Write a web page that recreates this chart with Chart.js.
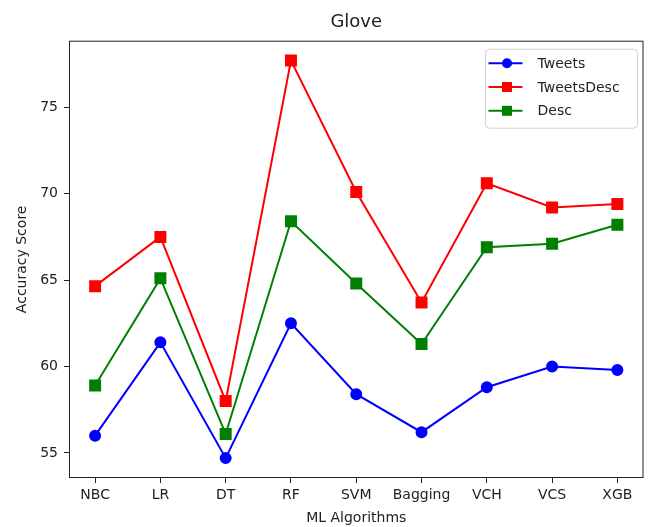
<!DOCTYPE html>
<html>
<head>
<meta charset="utf-8">
<script src="https://cdn.jsdelivr.net/npm/chart.js@4/dist/chart.umd.min.js"></script>
<style>
  html, body { margin: 0; padding: 0; background: #fff; overflow: hidden; }
  #wrap { width: 649px; height: 527px; }
</style>
</head>
<body>
<div id="wrap"><canvas id="chart"></canvas></div>
<script>
const algorithms = ["NBC", "LR", "DT", "RF", "SVM", "Bagging", "VCH", "VCS", "XGB"];
const tweets = [56.0, 61.4, 54.7, 62.5, 58.4, 56.2, 58.8, 60.0, 59.8];
const tweetsDesc = [64.65, 67.5, 58.0, 77.7, 70.1, 63.7, 70.6, 69.2, 69.4];
const desc = [58.9, 65.1, 56.1, 68.4, 64.8, 61.3, 66.9, 67.1, 68.2];
const yTicks = [55, 60, 65, 70, 75];

const FONT = "'DejaVu Sans', sans-serif";
const INK = "#222";

// matplotlib-like 5% margins
const all = tweets.concat(tweetsDesc, desc);
const lo = Math.min(...all), hi = Math.max(...all);
const yMin = lo - (hi - lo) * 0.05, yMax = hi + (hi - lo) * 0.05;
const xPad = (algorithms.length - 1) * 0.05;

const pts = arr => arr.map((v, i) => ({ x: i, y: v }));

// frame + legend box drawn like matplotlib
const framePlugin = {
  id: "frame",
  afterDraw(chart) {
    const { ctx, chartArea: a } = chart;
    ctx.save();
    ctx.strokeStyle = INK;
    ctx.lineWidth = 1;
    ctx.strokeRect(a.left + 0.5, a.top + 0.5, a.right - a.left - 1, a.bottom - a.top - 1);

    const w = 152, h = 79;
    const bx = a.right - 6 - w, by = a.top + 8.5;
    ctx.beginPath();
    ctx.roundRect(bx, by, w, h, 4);
    ctx.fillStyle = "rgba(255,255,255,0.8)";
    ctx.fill();
    ctx.strokeStyle = "#d0d0d0";
    ctx.stroke();

    ctx.font = "14px " + FONT;
    ctx.textBaseline = "middle";
    chart.data.datasets.forEach((ds, i) => {
      const y = by + 14 + i * 23.8;
      ctx.strokeStyle = ds.borderColor;
      ctx.lineWidth = 2;
      ctx.beginPath();
      ctx.moveTo(bx + 3, y);
      ctx.lineTo(bx + 37, y);
      ctx.stroke();
      ctx.fillStyle = ds.borderColor;
      ctx.beginPath();
      if (ds.pointStyle === "circle") {
        ctx.arc(bx + 21.5, y, 5, 0, Math.PI * 2);
      } else {
        ctx.rect(bx + 16.5, y - 5, 10, 10);
      }
      ctx.fill();
      ctx.fillStyle = INK;
      ctx.fillText(ds.label, bx + 52, y + 1);
    });
    ctx.restore();
  }
};

const ctx = document.getElementById("chart").getContext("2d");
new Chart(ctx, {
  type: "line",
  data: {
    datasets: [
      {
        label: "Tweets",
        data: pts(tweets),
        borderColor: "#0000ff",
        backgroundColor: "#0000ff",
        pointStyle: "circle",
        pointRadius: 5,
        borderWidth: 2
      },
      {
        label: "TweetsDesc",
        data: pts(tweetsDesc),
        borderColor: "#ff0000",
        backgroundColor: "#ff0000",
        pointStyle: "rect",
        pointRadius: 7.07,
        borderWidth: 2
      },
      {
        label: "Desc",
        data: pts(desc),
        borderColor: "#008000",
        backgroundColor: "#008000",
        pointStyle: "rect",
        pointRadius: 7.07,
        borderWidth: 2
      }
    ]
  },
  options: {
    responsive: true,
    maintainAspectRatio: false,
    animation: false,
    layout: { autoPadding: false, padding: { top: 0, right: 5.5, bottom: 0, left: 0 } },
    elements: { point: { borderWidth: 0, hoverRadius: 5 }, line: { tension: 0 } },
    plugins: {
      legend: { display: false },
      tooltip: { enabled: false },
      title: {
        display: true,
        text: "Glove",
        fullSize: false,
        color: INK,
        font: { family: FONT, size: 18, weight: "normal" },
        padding: { top: 11.5, bottom: 7.6 }
      }
    },
    scales: {
      x: {
        type: "linear",
        min: -xPad,
        max: algorithms.length - 1 + xPad,
        afterBuildTicks: s => { s.ticks = algorithms.map((_, i) => ({ value: i })); },
        afterFit: s => { s.height = 49; s.paddingLeft = 0; s.paddingRight = 0; },
        ticks: {
          callback: v => algorithms[v],
          color: INK,
          padding: 4,
          maxRotation: 0,
          autoSkip: false,
          font: { family: FONT, size: 14 }
        },
        grid: { drawOnChartArea: false, drawTicks: true, tickLength: 5, color: INK },
        border: { display: false },
        title: {
          display: true,
          text: "ML Algorithms",
          color: INK,
          font: { family: FONT, size: 14 },
          padding: { top: 0, bottom: 0 }
        }
      },
      y: {
        min: yMin,
        max: yMax,
        afterBuildTicks: s => { s.ticks = yTicks.map(v => ({ value: v })); },
        afterFit: s => { s.width = 69; },
        ticks: {
          color: INK,
          padding: 6,
          font: { family: FONT, size: 14 }
        },
        grid: { drawOnChartArea: false, drawTicks: true, tickLength: 5, color: INK },
        border: { display: false },
        title: {
          display: true,
          text: "Accuracy Score",
          color: INK,
          font: { family: FONT, size: 14 },
          padding: { top: 13.6, bottom: 0 }
        }
      }
    }
  },
  plugins: [framePlugin]
});
</script>
</body>
</html>
